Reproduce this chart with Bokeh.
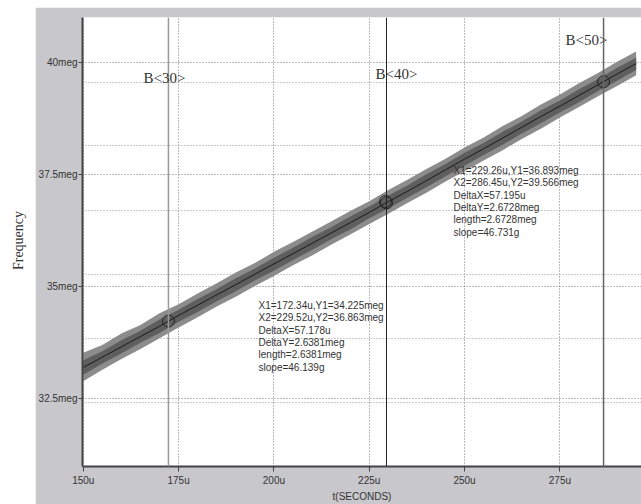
import math
from bokeh.plotting import figure
from bokeh.layouts import row, column
from bokeh.models import Range1d, FixedTicker, Span, Label, Grid, Spacer
from bokeh.embed import file_html
from bokeh.resources import INLINE

# ---- data (time in microseconds, frequency in MHz "meg") ----
t_us = [150, 155, 160, 165, 170, 175, 180, 185, 190, 195, 200, 205, 210, 215, 220,
        225, 230, 235, 240, 245, 250, 255, 260, 265, 270, 275, 280, 285, 290, 295]
freq_center = [33.19, 33.42, 33.65, 33.88, 34.11, 34.35, 34.58, 34.81, 35.04, 35.27,
               35.50, 35.73, 35.96, 36.19, 36.42, 36.65, 36.89, 37.12, 37.36, 37.60,
               37.84, 38.07, 38.31, 38.55, 38.79, 39.02, 39.26, 39.50, 39.74, 39.97]
# outer (spike) envelope of the noisy trace
freq_upper = [33.52, 33.69, 33.95, 34.14, 34.40, 34.60, 34.84, 35.07, 35.31, 35.52,
              35.77, 35.99, 36.22, 36.45, 36.68, 36.90, 37.15, 37.38, 37.62, 37.85,
              38.10, 38.32, 38.58, 38.80, 39.06, 39.28, 39.53, 39.76, 40.01, 40.24]
freq_lower = [32.88, 33.14, 33.38, 33.60, 33.84, 34.08, 34.31, 34.55, 34.77, 35.01,
              35.23, 35.47, 35.69, 35.93, 36.16, 36.39, 36.62, 36.86, 37.09, 37.34,
              37.57, 37.81, 38.04, 38.29, 38.52, 38.77, 39.00, 39.24, 39.47, 39.71]
# dense core of the noisy trace
core_upper = [33.35, 33.55, 33.80, 34.01, 34.26, 34.48, 34.72, 34.94, 35.18, 35.40,
              35.64, 35.86, 36.10, 36.32, 36.56, 36.78, 37.03, 37.25, 37.50, 37.73,
              37.98, 38.20, 38.45, 38.68, 38.93, 39.15, 39.40, 39.63, 39.88, 40.10]
core_lower = [33.03, 33.28, 33.50, 33.74, 33.96, 34.21, 34.43, 34.67, 34.89, 35.13,
              35.35, 35.59, 35.81, 36.05, 36.27, 36.52, 36.74, 36.98, 37.21, 37.46,
              37.69, 37.93, 38.16, 38.41, 38.64, 38.88, 39.11, 39.36, 39.59, 39.83]

cursor_names = ["B<30>", "B<40>", "B<50>"]
cursor_x = [172.34, 229.52, 286.45]
marker_x = [172.34, 229.52, 229.26, 286.45]
marker_y = [34.225, 36.863, 36.893, 39.566]

x_ticks = [150, 175, 200, 225, 250, 275]
x_tick_labels = ["150u", "175u", "200u", "225u", "250u", "275u"]
y_ticks = [32.5, 35, 37.5, 40]
y_tick_labels = ["32.5meg", "35meg", "37.5meg", "40meg"]
y_grid2 = [32.41, 33.84, 35.27, 36.70, 38.15, 39.55]

readout1 = ["X1=172.34u,Y1=34.225meg", "X2=229.52u,Y2=36.863meg", "DeltaX=57.178u",
            "DeltaY=2.6381meg", "length=2.6381meg", "slope=46.139g"]
readout2 = ["X1=229.26u,Y1=36.893meg", "X2=286.45u,Y2=39.566meg", "DeltaX=57.195u",
            "DeltaY=2.6728meg", "length=2.6728meg", "slope=46.731g"]

GRAY_BG = "#c8c8cc"
TXT = "#333333"
H = 504
TOP_GAP = 7
LEFT_W = 35

# ---- left strip with the y label ----
left = figure(width=LEFT_W, height=H, x_range=Range1d(0, 1), y_range=Range1d(0, 1),
              output_backend="svg", toolbar_location=None,
              min_border=0, min_border_left=0, min_border_right=0,
              min_border_top=0, min_border_bottom=0,
              background_fill_color="white", border_fill_color="white",
              outline_line_color=None)
left.axis.visible = False
left.grid.visible = False
left.add_layout(Label(x=18, y=H - 240, x_units="screen", y_units="screen",
                      text="Frequency", angle=math.pi / 2,
                      text_align="center", text_baseline="middle",
                      text_font="Liberation Serif", text_font_size="14px",
                      text_color=TXT))

# ---- main plot ----
p = figure(width=641 - LEFT_W, height=H - TOP_GAP,
           x_range=Range1d(149.8, 296.4), y_range=Range1d(30.98, 41.0),
           output_backend="svg", toolbar_location=None,
           min_border_left=45, min_border_right=0, min_border_top=17 - TOP_GAP,
           min_border_bottom=38,
           background_fill_color="white", border_fill_color=GRAY_BG,
           outline_line_color=None)

for ax in (p.xaxis[0], p.yaxis[0]):
    ax.axis_line_color = "#444444"
    ax.axis_line_width = 2
    ax.major_tick_line_color = "#444444"
    ax.major_tick_in = 0
    ax.major_tick_out = 4
    ax.minor_tick_line_color = None
    ax.major_label_text_font = "Liberation Sans"
    ax.major_label_text_font_size = "10px"
    ax.major_label_text_color = TXT
    ax.major_label_standoff = 1

p.xaxis.major_tick_out = 5
p.xaxis.major_label_standoff = 3
p.xaxis.ticker = FixedTicker(ticks=x_ticks)
p.xaxis.major_label_overrides = {k: v for k, v in zip(x_ticks, x_tick_labels)}
p.xaxis.axis_label = "t(SECONDS)"
p.xaxis.axis_label_text_font = "Liberation Sans"
p.xaxis.axis_label_text_font_size = "10px"
p.xaxis.axis_label_text_font_style = "normal"
p.xaxis.axis_label_text_color = TXT
p.xaxis.axis_label_standoff = 2

p.yaxis.ticker = FixedTicker(ticks=y_ticks)
p.yaxis.major_label_overrides = {k: v for k, v in zip(y_ticks, y_tick_labels)}

p.xgrid.ticker = FixedTicker(ticks=x_ticks)
p.ygrid.ticker = FixedTicker(ticks=y_ticks)
for g in (p.xgrid[0], p.ygrid[0]):
    g.grid_line_color = "#777777"
    g.grid_line_dash = "1 2"
    g.grid_line_width = 1
p.add_layout(Grid(dimension=1, ticker=FixedTicker(ticks=y_grid2),
                  grid_line_color="#999999", grid_line_dash="1 2", grid_line_width=1))

# noisy trace: spike envelope, dense core, centre line
p.varea(x=t_us, y1=freq_lower, y2=freq_upper, fill_color="#8c8c8c")
p.varea(x=t_us, y1=core_lower, y2=core_upper, fill_color="#5e5e5e")
p.line(t_us, freq_center, line_color="#1a1a1a", line_width=1)

# cursors
cursor_colors = ["#999999", "#222222", "#666666"]
cursor_widths = [1.5, 1, 1.5]
label_dx = [-25, -11, -38]          # label offset from cursor, pixels
label_y = [39.66, 39.73, 40.49]
for cx, nm, c, w, dx, ly in zip(cursor_x, cursor_names, cursor_colors, cursor_widths,
                                label_dx, label_y):
    p.add_layout(Span(location=cx, dimension="height", line_color=c, line_width=w))
    p.add_layout(Label(x=cx, y=ly, x_offset=dx, text=nm, text_align="left",
                       text_baseline="middle", text_font="Liberation Serif",
                       text_font_size="15px", text_color=TXT))

p.scatter(marker_x, marker_y, size=12, fill_color=None, line_color="#222222",
          line_width=1)

# readouts
def add_block(lines, x0, y0):
    for i, s in enumerate(lines):
        p.add_layout(Label(x=x0, y=y0, y_offset=-12.3 * i, text=s, text_align="left",
                           text_baseline="middle", text_font="Liberation Sans",
                           text_font_size="10px", text_color=TXT))

add_block(readout1, 195.97, 34.57)
add_block(readout2, 247.1, 37.585)

layout = row(left, column(Spacer(width=641 - LEFT_W, height=TOP_GAP), p))
open("out.html", "w").write(file_html(layout, INLINE))
